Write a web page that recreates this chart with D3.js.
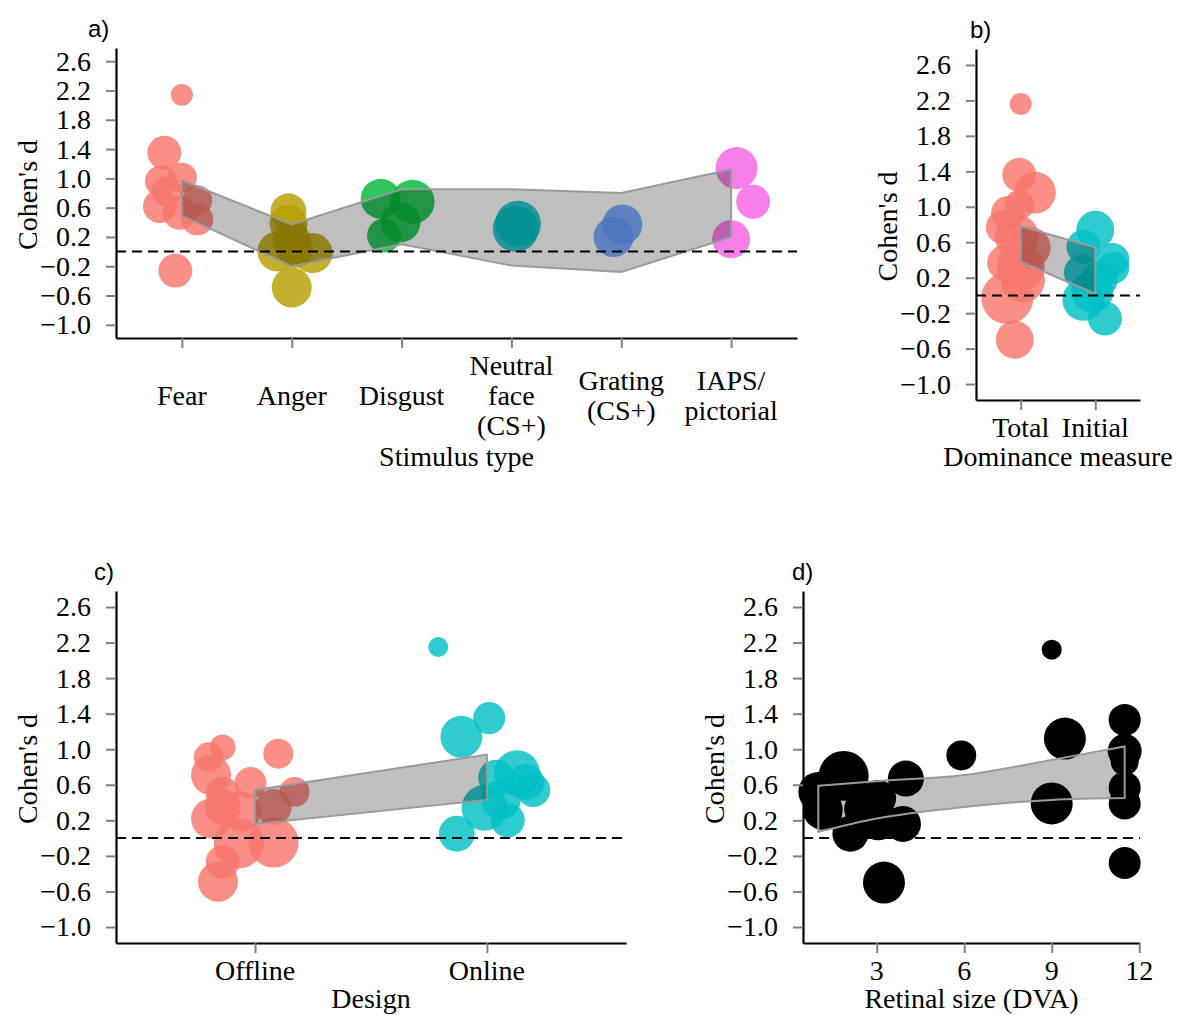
<!DOCTYPE html>
<html lang="en">
<head>
<meta charset="UTF-8" />
<title>Cohen's d by moderator</title>
<script src="https://d3js.org/d3.v7.min.js"></script>
<style>
  body { margin: 0; background: #fff; }
</style>
</head>
<body>
<svg width="1177" height="1015"></svg>
<script>
// ---------------- data ----------------
var yTicks = [-1.0, -0.6, -0.2, 0.2, 0.6, 1.0, 1.4, 1.8, 2.2, 2.6];

// a) stimulus type
var stimCats = ["Fear", "Anger", "Disgust", "Neutral\nface\n(CS+)", "Grating\n(CS+)", "IAPS/\npictorial"];
var stimColors = ["#F8766D", "#B79F00", "#00BA38", "#00BFC4", "#619CFF", "#F564E3"];
// [category, jitter (share of step), cohen's d, weight]
var stimPoints = [
  [0, 0.00, 2.14, 30], [0, -0.16, 1.35, 72], [0, -0.19, 0.96, 64], [0, 0.00, 1.01, 56],
  [0, -0.14, 0.82, 56], [0, 0.14, 0.70, 56], [0, -0.20, 0.62, 72], [0, -0.02, 0.53, 72],
  [0, 0.14, 0.44, 64], [0, -0.06, -0.26, 72],
  [1, -0.03, 0.55, 81], [1, -0.03, 0.38, 90], [1, 0.00, 0.15, 90], [1, 0.03, 0.02, 81],
  [1, -0.13, 0.00, 100], [1, 0.19, -0.02, 100], [1, 0.00, -0.49, 100],
  [2, -0.19, 0.72, 100], [2, 0.10, 0.68, 121], [2, -0.01, 0.40, 100], [2, -0.16, 0.22, 72],
  [3, 0.06, 0.38, 132], [3, 0.04, 0.31, 132],
  [4, 0.01, 0.37, 100], [4, -0.07, 0.20, 100],
  [5, 0.05, 1.14, 110], [5, 0.20, 0.68, 72], [5, 0.00, 0.17, 90]
];
var stimUpper = [0.97, 0.37, 0.85, 0.85, 0.80, 1.12];
var stimLower = [0.49, -0.20, 0.10, -0.19, -0.28, 0.20];

// b) dominance measure
var measCats = ["Total", "Initial"];
var measColors = ["#F8766D", "#00BFC4"];
var measPoints = [
  [0, 0.00, 2.16, 30], [0, -0.02, 1.36, 72], [0, 0.19, 1.16, 110], [0, -0.02, 1.02, 56],
  [0, -0.17, 0.93, 72], [0, -0.24, 0.77, 72], [0, -0.05, 0.66, 121], [0, 0.12, 0.54, 110],
  [0, -0.21, 0.37, 81], [0, 0.00, 0.32, 144], [0, 0.03, 0.17, 121], [0, -0.18, -0.03, 169],
  [0, -0.08, -0.50, 90],
  [1, 0.00, 0.74, 90], [1, -0.16, 0.55, 72], [1, 0.23, 0.40, 72], [1, 0.24, 0.31, 64],
  [1, -0.18, 0.26, 81], [1, 0.06, 0.18, 81], [1, -0.04, 0.04, 110], [1, -0.16, -0.05, 110],
  [1, 0.13, -0.26, 72]
];
var measUpper = [0.78, 0.54];
var measLower = [0.38, 0.02];

// c) design
var designCats = ["Offline", "Online"];
var designColors = ["#F8766D", "#00BFC4"];
var designPoints = [
  [0, -0.14, 1.02, 42], [0, -0.20, 0.91, 56], [0, 0.10, 0.95, 56], [0, -0.19, 0.71, 100],
  [0, -0.02, 0.62, 64], [0, -0.14, 0.50, 72], [0, 0.17, 0.52, 56], [0, -0.14, 0.35, 81],
  [0, 0.08, 0.35, 81], [0, -0.06, 0.30, 100], [0, -0.19, 0.22, 100], [0, -0.07, -0.06, 156],
  [0, 0.08, -0.05, 156], [0, -0.14, -0.27, 72], [0, -0.16, -0.49, 100],
  [1, -0.21, 2.15, 25], [1, 0.01, 1.35, 64], [1, -0.11, 1.14, 110], [1, 0.13, 0.73, 132],
  [1, 0.04, 0.68, 81], [1, 0.17, 0.63, 81], [1, 0.20, 0.54, 72], [1, 0.06, 0.43, 100],
  [1, -0.01, 0.34, 132], [1, 0.09, 0.20, 72], [1, -0.13, 0.05, 81]
];
var designUpper = [0.54, 0.94];
var designLower = [0.16, 0.43];

// d) retinal size: [DVA, cohen's d, weight]
var sizePoints = [
  [1.00, 0.52, 100], [1.15, 0.32, 100], [1.30, 0.27, 56], [1.87, 0.70, 156], [2.10, 0.05, 81],
  [2.50, 0.33, 81], [3.05, 0.20, 100], [3.05, 0.45, 81], [3.25, -0.50, 110], [4.00, 0.67, 81],
  [3.90, 0.16, 81], [5.90, 0.93, 56], [9.00, 2.12, 25], [9.45, 1.12, 110], [9.00, 0.39, 110],
  [11.5, 1.33, 64], [11.5, 0.98, 72], [11.5, 0.86, 49], [11.5, 0.57, 64], [11.5, 0.39, 64],
  [11.5, -0.28, 64]
];
var sizeRibbonX = [1, 3, 6, 9, 11.5];
var sizeUpper = [0.59, 0.64, 0.71, 0.88, 1.03];
var sizeLower = [0.07, 0.22, 0.35, 0.43, 0.45];

// ---------------- drawing ----------------
var SERIF = "'Liberation Serif', 'Times New Roman', Times, serif";
var SANS = "'Liberation Sans', Arial, Helvetica, sans-serif";
var svg = d3.select("svg");
var fmt = d3.format(".1f");
var rScale = d3.scaleSqrt().domain([0, 169]).range([0, 26]);
var yDomain = [-1.18, 2.78];

function serifText(sel, size) {
  return sel.style("font-family", SERIF).style("font-size", size + "px").attr("fill", "#000");
}

function panel(cfg) {
  var g = svg.append("g");
  var x = cfg.x, y = cfg.y;
  var xr = x.range(), yr = y.range();

  // points
  g.append("g").selectAll("circle")
    .data(cfg.points)
    .join("circle")
    .attr("cx", cfg.px)
    .attr("cy", cfg.py)
    .attr("r", cfg.pr)
    .attr("fill", cfg.color)
    .attr("fill-opacity", cfg.alpha);

  // confidence ribbon, drawn over the points
  var area = d3.area()
    .x(d => d.x)
    .y0(d => y(d.lo))
    .y1(d => y(d.hi))
    .curve(cfg.curve || d3.curveLinear);
  g.append("path")
    .datum(cfg.ribbon)
    .attr("d", area)
    .attr("fill", "#000")
    .attr("fill-opacity", 0.25)
    .attr("stroke", "#9a9a9a")
    .attr("stroke-width", 2);

  // zero line
  g.append("line")
    .attr("x1", xr[0]).attr("x2", xr[1])
    .attr("y1", y(0)).attr("y2", y(0))
    .attr("stroke", "#000")
    .attr("stroke-width", 2)
    .attr("stroke-dasharray", "10,6");

  // y axis
  var ya = g.append("g")
    .attr("transform", "translate(" + xr[0] + ",0)")
    .call(d3.axisLeft(y).tickValues(yTicks).tickFormat(fmt).tickSize(10).tickSizeOuter(0).tickPadding(15));
  // x axis
  var xa = g.append("g")
    .attr("transform", "translate(0," + yr[0] + ")")
    .call(d3.axisBottom(x).tickValues(cfg.xTicks).tickFormat("").tickSize(10).tickSizeOuter(0));
  [ya, xa].forEach(a => {
    a.attr("font-family", null).attr("font-size", null);
    a.select(".domain").attr("stroke", "#000").attr("stroke-width", 2.2);
    a.selectAll(".tick line").attr("stroke", "#808080").attr("stroke-width", 2);
  });
  serifText(ya.selectAll(".tick text"), 28);

  // x tick labels (may be multi-line, centred on the tallest)
  var maxLines = d3.max(cfg.xTicks, t => cfg.xLabel(t).split("\n").length);
  cfg.xTicks.forEach(t => {
    var lines = cfg.xLabel(t).split("\n");
    var base = yr[0] + 37 + (maxLines - lines.length) * 15;
    var txt = serifText(g.append("text"), 28).attr("text-anchor", "middle");
    lines.forEach((l, i) => {
      txt.append("tspan").attr("x", x(t)).attr("y", base + i * 30).text(l);
    });
  });

  // axis titles
  serifText(g.append("text"), 28)
    .attr("x", (xr[0] + xr[1]) / 2)
    .attr("y", yr[0] + cfg.titleGap)
    .attr("text-anchor", "middle")
    .text(cfg.xTitle);
  serifText(g.append("text"), 28)
    .attr("transform", "translate(" + (xr[0] - 79) + "," + ((yr[0] + yr[1]) / 2 + 2) + ") rotate(-90)")
    .attr("text-anchor", "middle")
    .text("Cohen's d");

  // panel tag
  g.append("text")
    .style("font-family", SANS)
    .style("font-size", "24px")
    .attr("fill", "#000")
    .attr("x", xr[0] + cfg.tagDx)
    .attr("y", yr[1] - 11)
    .text(cfg.tag);
}

function catPanel(opt) {
  var x = d3.scalePoint().domain(d3.range(opt.cats.length)).range(opt.xRange).padding(0.6);
  var y = d3.scaleLinear().domain(yDomain).range(opt.yRange);
  panel({
    x: x, y: y,
    points: opt.points,
    px: d => x(d[0]) + d[1] * x.step(),
    py: d => y(d[2]),
    pr: d => rScale(d[3]),
    color: d => opt.colors[d[0]],
    alpha: 0.82,
    ribbon: opt.upper.map((u, i) => ({ x: x(i), hi: u, lo: opt.lower[i] })),
    xTicks: d3.range(opt.cats.length),
    xLabel: i => opt.cats[i],
    xTitle: opt.xTitle,
    titleGap: opt.titleGap,
    tag: opt.tag,
    tagDx: opt.tagDx
  });
}

catPanel({
  cats: stimCats, colors: stimColors, points: stimPoints,
  upper: stimUpper, lower: stimLower,
  xRange: [116, 797], yRange: [338, 48],
  xTitle: "Stimulus type", titleGap: 128, tag: "a)", tagDx: -28
});

catPanel({
  cats: measCats, colors: measColors, points: measPoints,
  upper: measUpper, lower: measLower,
  xRange: [976, 1140], yRange: [400, 49],
  xTitle: "Dominance measure", titleGap: 66, tag: "b)", tagDx: -6
});

catPanel({
  cats: designCats, colors: designColors, points: designPoints,
  upper: designUpper, lower: designLower,
  xRange: [116, 626], yRange: [943, 591],
  xTitle: "Design", titleGap: 65, tag: "c)", tagDx: -22
});

(function () {
  var x = d3.scaleLinear().domain([0.475, 12.025]).range([803, 1140]);
  var y = d3.scaleLinear().domain(yDomain).range([943, 591]);
  panel({
    x: x, y: y,
    points: sizePoints,
    px: d => x(d[0]),
    py: d => y(d[1]),
    pr: d => rScale(d[2]),
    color: "#000",
    alpha: 1,
    ribbon: sizeRibbonX.map((v, i) => ({ x: x(v), hi: sizeUpper[i], lo: sizeLower[i] })),
    curve: d3.curveMonotoneX,
    xTicks: [3, 6, 9, 12],
    xLabel: t => String(t),
    xTitle: "Retinal size (DVA)",
    titleGap: 65, tag: "d)", tagDx: -11
  });
})();
</script>
</body>
</html>
